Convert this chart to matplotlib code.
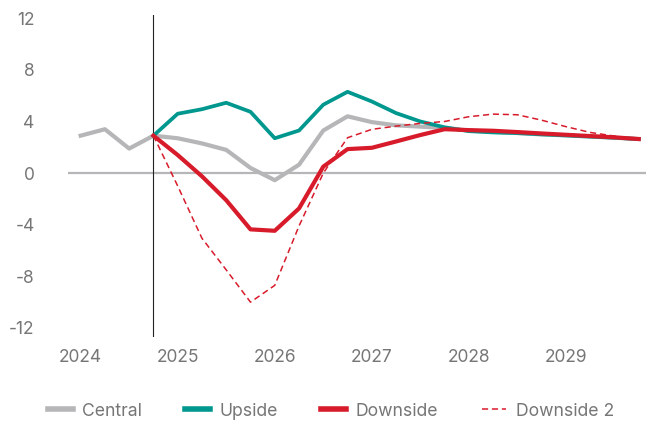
import numpy as np
import matplotlib
matplotlib.use("Agg")
import matplotlib.pyplot as plt

plt.rcParams['font.family'] = ['Inter', 'DejaVu Sans']
plt.rcParams['axes.unicode_minus'] = False

# quarterly, Q1 2024 .. Q4 2029
years = ['2024', '2025', '2026', '2027', '2028', '2029']
central = [2.9, 3.4, 1.9, 2.9, 2.7, 2.3, 1.8, 0.4, -0.55, 0.65, 3.3, 4.4,
           3.95, 3.7, 3.6, 3.5, 3.3, 3.2, 3.1, 3.0, 2.92, 2.83, 2.74, 2.64]
upside = [None, None, None, 2.9, 4.6, 4.95, 5.45, 4.75, 2.7, 3.3, 5.3, 6.3,
          5.55, 4.65, 4.0, 3.55, 3.25, 3.15, 3.1, 3.0, 2.92, 2.83, 2.74, 2.64]
downside = [None, None, None, 2.9, 1.4, -0.25, -2.1, -4.36, -4.47, -2.74, 0.5, 1.86,
            1.96, 2.45, 2.95, 3.4, 3.33, 3.28, 3.18, 3.07, 2.97, 2.87, 2.77, 2.64]
downside2 = [None, None, None, 2.9, -1.0, -5.05, -7.5, -10.0, -8.7, -4.1, 0.0, 2.74,
             3.39, 3.64, 3.85, 4.0, 4.37, 4.57, 4.52, 4.1, 3.6, 3.15, 2.87, 2.64]

def arr(v):
    return np.array([np.nan if x is None else x for x in v], dtype=float)

q = np.arange(len(central))
grey = '#b6b6b9'
teal = '#00978f'
red = '#d81b2b'
txt = '#767676'

fig = plt.figure(figsize=(6.46, 4.24), dpi=100)
ax = fig.add_axes([0.1053, 0.2052, 0.8947, 0.7594])

ax.axhline(0, color=grey, lw=1.6, zorder=1)
ax.axvline(3, color='#222222', lw=0.8, zorder=1)

ax.plot(q, arr(central), color=grey, lw=3.0, label='Central', solid_joinstyle='round', zorder=2)
ax.plot(q, arr(upside), color=teal, lw=2.7, label='Upside', solid_joinstyle='round', zorder=3)
ax.plot(q, arr(downside), color=red, lw=3.0, label='Downside', solid_joinstyle='round', zorder=4)
ax.plot(q, arr(downside2), color=red, lw=1.1, ls=(0, (4, 2.5)), label='Downside 2', zorder=5)

ax.set_xlim(-0.52, 23.3)
ax.set_ylim(-12.7, 12.25)
ax.set_yticks([-12, -8, -4, 0, 4, 8, 12])
ax.set_xticks(np.arange(0, 24, 4))
ax.set_xticklabels(years)

for s in ax.spines.values():
    s.set_visible(False)
ax.tick_params(axis='y', length=0, pad=24, labelsize=12.5, labelcolor=txt)
ax.tick_params(axis='x', length=0, pad=9, labelsize=12.5, labelcolor=txt)

leg = fig.legend(loc='center left', bbox_to_anchor=(48 / 646, 13 / 424), ncol=4, frameon=False,
                 fontsize=12.7, handlelength=1.4, handletextpad=0.55, columnspacing=2.45,
                 borderaxespad=0, borderpad=0)
for t in leg.get_texts():
    t.set_color(txt)
for h in leg.get_lines():
    if h.get_linestyle() == '-':
        h.set_linewidth(4)

fig.savefig('out.png', dpi=100)
